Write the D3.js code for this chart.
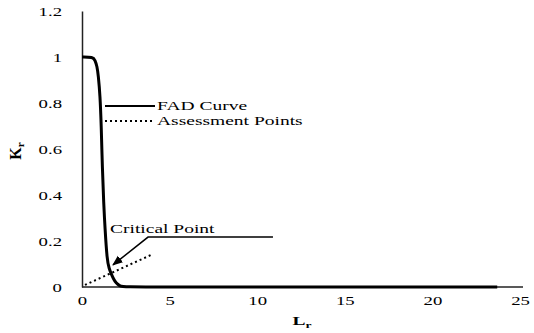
<!DOCTYPE html>
<html lang="en">
<head>
  <meta charset="UTF-8">
  <title>FAD Curve</title>
  <script src="https://d3js.org/d3.v7.min.js"></script>
  <style>
    body { margin: 0; background: #fff; }
    svg { display: block; font-family: "Liberation Serif", "Times New Roman", serif; }
    .sx { transform-box: fill-box; transform-origin: center; transform: scaleX(1.5); }
    .sxr { transform-box: fill-box; transform-origin: right center; transform: scaleX(1.5); }
    .sxl { transform-box: fill-box; transform-origin: left center; transform: scaleX(1.5); }
  </style>
</head>
<body>
  <div id="chart"></div>
  <script>
    // FAD curve (Lr, Kr)
    const fadLr = [0, 0.63, 0.74, 0.86, 0.93, 1.03, 1.1, 1.16, 1.24, 1.31, 1.43, 1.55, 1.66, 1.8, 1.94, 2.15, 2.34, 5, 10, 15, 20, 23.7];
    const fadKr = [1, 1, 0.987, 0.96, 0.92, 0.835, 0.7, 0.52, 0.36, 0.26, 0.117, 0.08, 0.058, 0.035, 0.017, 0.005, 0, 0, 0, 0, 0, 0];

    // assessment points line
    const assessLr = [0.17, 4.05];
    const assessKr = [0.009, 0.143];

    // critical point leader: end of shelf, elbow, arrow tip
    const critLr = [10.9, 3.77, 1.77];
    const critKr = [0.217, 0.217, 0.096];

    const xTicks = [0, 5, 10, 15, 20, 25];
    const yTicks = [0, 0.2, 0.4, 0.6, 0.8, 1, 1.2];

    const width = 534, height = 333;
    const svg = d3.select("#chart").append("svg")
      .attr("width", width)
      .attr("height", height);

    const x = d3.scaleLinear().domain([0, 25]).range([82, 520]);
    const y = d3.scaleLinear().domain([0, 1.2]).range([287, 11]);

    svg.append("defs").append("marker")
      .attr("id", "arrow")
      .attr("viewBox", "0 0 10 10")
      .attr("refX", 9).attr("refY", 5)
      .attr("markerWidth", 7).attr("markerHeight", 7)
      .attr("orient", "auto")
      .append("path")
      .attr("d", "M0,1 L10,5 L0,9 z")
      .attr("fill", "#000");

    // axes
    const xAxis = svg.append("g")
      .attr("transform", `translate(0,${y(0)})`)
      .call(d3.axisBottom(x).tickValues(xTicks).tickSize(0).tickPadding(9).tickFormat(d3.format("d")));
    const yAxis = svg.append("g")
      .attr("transform", `translate(${x(0)},0)`)
      .call(d3.axisLeft(y).tickValues(yTicks).tickSize(0).tickPadding(20).tickFormat(d3.format("~g")));

    [xAxis, yAxis].forEach(a => {
      a.select(".domain").attr("stroke", "#222").attr("stroke-width", 1.5);
      a.selectAll("text")
        .attr("font-family", "Liberation Serif")
        .attr("font-size", 12.5)
        .attr("fill", "#000");
    });
    xAxis.selectAll(".domain").attr("d", `M${x(0)},0H523`);
    xAxis.selectAll("text").attr("class", "sx");
    yAxis.selectAll("text").attr("class", "sxr");

    // FAD curve
    const fad = fadLr.map((l, i) => [l, fadKr[i]]);
    svg.append("path")
      .datum(fad)
      .attr("fill", "none")
      .attr("stroke", "#000")
      .attr("stroke-width", 3)
      .attr("stroke-linejoin", "round")
      .attr("d", d3.line().x(d => x(d[0])).y(d => y(d[1])).curve(d3.curveBasis));

    // assessment line
    const assess = assessLr.map((l, i) => [l, assessKr[i]]);
    svg.append("path")
      .datum(assess)
      .attr("fill", "none")
      .attr("stroke", "#000")
      .attr("stroke-width", 2)
      .attr("stroke-dasharray", "2,3")
      .attr("d", d3.line().x(d => x(d[0])).y(d => y(d[1])));

    // critical point annotation
    const crit = critLr.map((l, i) => [l, critKr[i]]);
    svg.append("path")
      .datum(crit)
      .attr("fill", "none")
      .attr("stroke", "#000")
      .attr("stroke-width", 1.5)
      .attr("marker-end", "url(#arrow)")
      .attr("d", d3.line().x(d => x(d[0])).y(d => y(d[1])));

    svg.append("text")
      .attr("class", "sxl")
      .attr("x", x(1.6))
      .attr("y", y(0.235))
      .attr("font-size", 13)
      .text("Critical Point");

    // legend
    const legend = svg.append("g");
    legend.append("line")
      .attr("x1", 105).attr("x2", 155).attr("y1", 106).attr("y2", 106)
      .attr("stroke", "#000").attr("stroke-width", 2);
    legend.append("text")
      .attr("class", "sxl")
      .attr("x", 157).attr("y", 110.5)
      .attr("font-size", 13)
      .text("FAD Curve");
    legend.append("line")
      .attr("x1", 105).attr("x2", 155).attr("y1", 121).attr("y2", 121)
      .attr("stroke", "#000").attr("stroke-width", 2)
      .attr("stroke-dasharray", "2,3");
    legend.append("text")
      .attr("class", "sxl")
      .attr("x", 157).attr("y", 125.5)
      .attr("font-size", 13)
      .text("Assessment Points");

    // axis titles
    const xt = svg.append("text")
      .attr("class", "sx")
      .attr("x", 302).attr("y", 325)
      .attr("text-anchor", "middle")
      .attr("font-size", 13)
      .attr("font-weight", "bold");
    xt.append("tspan").text("L");
    xt.append("tspan").attr("font-size", 9).attr("dy", 3).text("r");

    const yt = svg.append("text")
      .attr("transform", "translate(21,151) rotate(-90)")
      .attr("text-anchor", "middle")
      .attr("font-size", 16)
      .attr("font-weight", "bold");
    yt.append("tspan").text("K");
    yt.append("tspan").attr("font-size", 11).attr("dy", 3).text("r");
  </script>
</body>
</html>
